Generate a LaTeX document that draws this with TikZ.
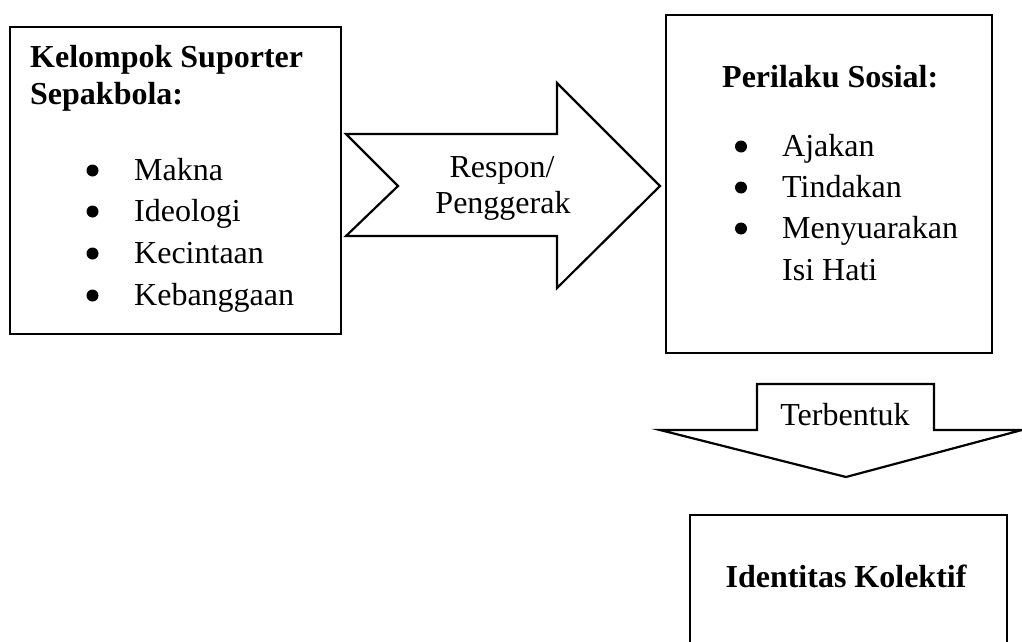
\documentclass[tikz,border=0pt]{standalone}
\usepackage{fontspec}
\setmainfont{Liberation Serif}
\tikzset{
  boxframe/.style={draw=black, line width=2.2pt, fill=white, inner sep=0pt},
  blockarrow/.style={draw=black, line width=2.2pt, fill=white, line join=miter},
  txt/.style={inner sep=0pt, font=\fontsize{32}{38}\selectfont},
  btxt/.style={inner sep=0pt, font=\fontsize{32}{38}\selectfont\bfseries},
  dot/.style={fill=black, draw=none}
}
\begin{document}
\begin{tikzpicture}[x=1pt, y=-1pt]
\clip (0,0) rectangle (1022,642);
\fill[white] (0,0) rectangle (1022,642);
% boxes
\node[boxframe, minimum width=331pt, minimum height=307pt, anchor=north west] (kel) at (9,26) {};
\node[boxframe, minimum width=326pt, minimum height=338pt, anchor=north west] (per) at (665,14) {};
\node[boxframe, minimum width=317pt, minimum height=160pt, anchor=north west] (ide) at (689,514) {};
% right block arrow
\coordinate (ra1) at (346,134);
\coordinate (ra2) at (557,134);
\coordinate (ra3) at (557,83);
\coordinate (ratip) at (660,186);
\coordinate (ra5) at (557,288);
\coordinate (ra6) at (557,236);
\coordinate (ra7) at (346,236);
\coordinate (ranotch) at (398,186);
\draw[blockarrow] (ra1) -- (ra2) -- (ra3) -- (ratip) -- (ra5) -- (ra6) -- (ra7) -- (ranotch) -- cycle;
% down block arrow
\coordinate (da1) at (757,384);
\coordinate (da2) at (934,384);
\coordinate (da3) at (934,430);
\coordinate (da4) at (1022,430);
\coordinate (datip) at (846,477);
\coordinate (da6) at (660,430);
\coordinate (da7) at (757,430);
\draw[blockarrow] (da1) -- (da2) -- (da3) -- (da4) -- (datip) -- (da6) -- (da7) -- cycle;
% left box text
\node[btxt, anchor=base west] (k1) at (30,67) {Kelompok Suporter};
\node[btxt, anchor=base west] (k2) at (30,104) {Sepakbola:};
\node[txt, anchor=base west] (k3) at (134,180) {Makna};
\node[txt, anchor=base west] (k4) at (134,221) {Ideologi};
\node[txt, anchor=base west] (k5) at (134,263) {Kecintaan};
\node[txt, anchor=base west] (k6) at (134,305) {Kebanggaan};
\foreach \yy in {180,221,263,305} \fill[dot] (92.5,\yy-9.5) circle (6);
% right box text
\node[btxt, anchor=base west] (p1) at (722,87) {Perilaku Sosial:};
\node[txt, anchor=base west] (p2) at (782,156) {Ajakan};
\node[txt, anchor=base west] (p3) at (782,197) {Tindakan};
\node[txt, anchor=base west] (p4) at (782,238) {Menyuarakan};
\node[txt, anchor=base west] (p5) at (782,280) {Isi Hati};
\foreach \yy in {156,197,238} \fill[dot] (741,\yy-9.5) circle (6);
% arrow labels
\node[txt, anchor=base] (r1) at (502,177) {Respon/};
\node[txt, anchor=base] (r2) at (503,213) {Penggerak};
\node[txt, anchor=base] (t1) at (845,425) {Terbentuk};
\node[btxt, anchor=base] (i1) at (846,587) {Identitas Kolektif};
\end{tikzpicture}
\end{document}
